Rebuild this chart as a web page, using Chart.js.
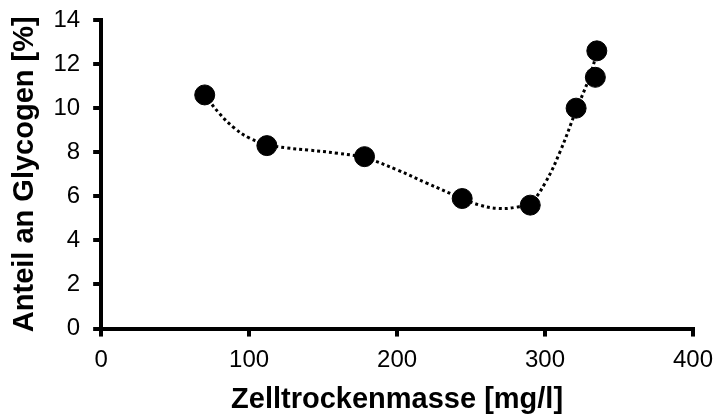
<!DOCTYPE html>
<html>
<head>
<meta charset="utf-8">
<script src="https://cdn.jsdelivr.net/npm/chart.js@4"></script>
<style>
  body { margin: 0; background: #fff; }
  #wrap { width: 718px; height: 415px; }
</style>
</head>
<body>
<div id="wrap"><canvas id="chart" width="718" height="415"></canvas></div>
<script>
// measured points
const massX = [70, 112, 178, 244, 290, 321, 334, 335];
const glycogenY = [10.6, 8.3, 7.8, 5.9, 5.6, 10.0, 11.4, 12.6];

// dotted trend curve
const trendX = [70, 80, 90, 100, 112, 125, 140, 160, 178, 200, 220, 244, 256, 268, 280, 290, 300, 310, 321, 330, 335];
const trendY = [10.6, 9.75, 9.1, 8.65, 8.35, 8.2, 8.1, 7.95, 7.75, 7.2, 6.6, 5.9, 5.6, 5.45, 5.5, 5.7, 6.6, 8.0, 9.9, 11.4, 12.5];

const xTicks = [0, 100, 200, 300, 400];
const yTicks = [0, 2, 4, 6, 8, 10, 12, 14];

const toPoints = (xs, ys) => xs.map((x, i) => ({ x: x, y: ys[i] }));

const axisFont = { family: "'Liberation Sans', Arial, sans-serif", size: 24, lineHeight: 1 };
const titleFont = { family: "'Liberation Sans', Arial, sans-serif", size: 29, weight: "bold", lineHeight: 1.05 };

const ctx = document.getElementById("chart").getContext("2d");
new Chart(ctx, {
  type: "scatter",
  data: {
    datasets: [
      {
        label: "Glycogen",
        data: toPoints(massX, glycogenY),
        backgroundColor: "#000",
        borderColor: "#000",
        pointRadius: 10,
        pointHoverRadius: 10,
        order: 0,
      },
      {
        label: "Trend",
        data: toPoints(trendX, trendY),
        showLine: true,
        borderColor: "#000",
        borderWidth: 3,
        borderDash: [3, 3],
        tension: 0.4,
        pointRadius: 0,
        fill: false,
        order: 1,
      },
    ],
  },
  options: {
    responsive: false,
    animation: false,
    layout: { padding: { left: 10, right: 25, top: 20, bottom: 0 } },
    plugins: {
      legend: { display: false },
      tooltip: { enabled: false },
    },
    scales: {
      x: {
        type: "linear",
        min: 0,
        max: 400,
        afterBuildTicks: (axis) => { axis.ticks = xTicks.map((v) => ({ value: v })); },
        afterFit: (axis) => { axis.paddingLeft = 0; axis.paddingRight = 0; },
        ticks: { color: "#000", font: axisFont, padding: 12 },
        grid: { drawOnChartArea: false, drawTicks: true, tickLength: 8, color: "#000", lineWidth: 4 },
        border: { color: "#000", width: 4 },
        title: { display: true, text: "Zelltrockenmasse [mg/l]", color: "#000", font: titleFont, padding: { top: 0, bottom: 0 } },
      },
      y: {
        type: "linear",
        min: 0,
        max: 14,
        afterBuildTicks: (axis) => { axis.ticks = yTicks.map((v) => ({ value: v })); },
        afterFit: (axis) => { axis.paddingTop = 0; axis.paddingBottom = 0; },
        ticks: { color: "#000", font: axisFont, padding: 13 },
        grid: { drawOnChartArea: false, drawTicks: true, tickLength: 8, color: "#000", lineWidth: 4 },
        border: { color: "#000", width: 4 },
        title: { display: true, text: "Anteil an Glycogen [%]", color: "#000", font: titleFont, padding: { top: 0, bottom: 0 } },
      },
    },
  },
});
</script>
</body>
</html>
